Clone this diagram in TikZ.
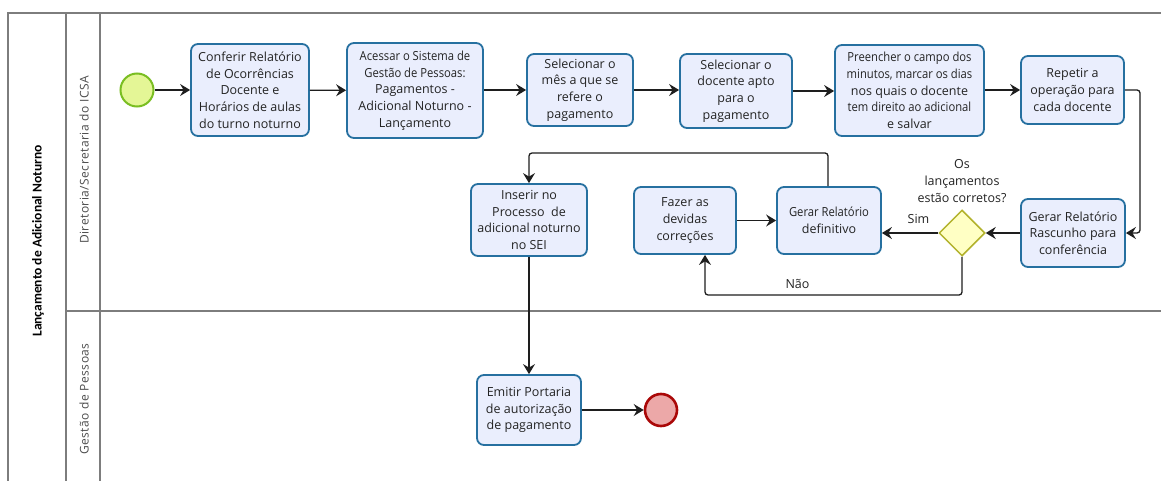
\documentclass[tikz,border=0pt]{standalone}
\usepackage{fontspec}
\setmainfont{Open Sans}
\newfontfamily\condfont[FakeStretch=0.9]{Open Sans}
\newfontfamily\titlefont{Carlito}
\newfontfamily\lanefont[LetterSpace=4]{Open Sans}
\usetikzlibrary{arrows.meta,shapes.geometric}

\definecolor{taskfill}{RGB}{234,238,253}
\definecolor{taskline}{RGB}{38,112,160}
\definecolor{inktext}{RGB}{35,35,35}
\definecolor{startfill}{RGB}{228,246,150}
\definecolor{startline}{RGB}{122,190,34}
\definecolor{endfill}{RGB}{236,168,168}
\definecolor{endline}{RGB}{170,8,8}
\definecolor{gatefill}{RGB}{255,255,196}
\definecolor{gateline}{RGB}{178,178,44}
\definecolor{laneline}{RGB}{125,125,125}
\definecolor{flowline}{RGB}{30,30,30}

\tikzset{
  task/.style={rectangle, rounded corners=7pt, draw=taskline, line width=1.8pt,
    fill=taskfill, text=inktext, align=center, inner sep=0pt,
    font=\fontsize{12.5}{16.7}\selectfont},
  startev/.style={circle, draw=startline, fill=startfill, line width=2pt,
    minimum size=33pt, inner sep=0pt},
  endev/.style={circle, draw=endline, fill=endfill, line width=2.6pt,
    minimum size=32pt, inner sep=0pt},
  gate/.style={diamond, aspect=1, draw=gateline, fill=gatefill, line width=1.5pt,
    minimum width=46pt, minimum height=46pt, inner sep=0pt},
  flow/.style={draw=flowline, line width=1.3pt, rounded corners=3pt,
    -{Stealth[length=10pt,width=12pt,inset=3.5pt]}},
  lane/.style={draw=laneline, line width=1.3pt},
  lbl/.style={text=inktext, align=center, font=\fontsize{12.5}{16.7}\selectfont},
  lanelbl/.style={rotate=90, text=black!70, font=\lanefont\fontsize{12}{14}\selectfont},
}

\begin{document}
\begin{tikzpicture}[x=1pt,y=-1pt]
\useasboundingbox (0,0) rectangle (1161,481);
\fill[white] (0,0) rectangle (1161,481);

% pool and lanes
\draw[lane] (8,481) -- (8,13) -- (1161,13);
\draw[lane] (66,13) -- (66,481);
\draw[lane] (100,13) -- (100,481);
\draw[lane] (66,311) -- (1161,311);

\node[rotate=90, font=\titlefont\bfseries\fontsize{13.5}{16}\selectfont] (pool) at (38,241) {Lançamento de Adicional Noturno};
\node[lanelbl] (laneA) at (84,160) {Diretoria/Secretaria do ICSA};
\node[lanelbl] (laneB) at (84,399) {Gestão de Pessoas};

% events and activities
\node[startev] (start) at (137,90) {};
\node[task, minimum width=118pt, minimum height=92pt] (t1) at (250,90)
  {Conferir Relatório\\de Ocorrências\\Docente e\\Horários de aulas\\do turno noturno};
\node[task, minimum width=136pt, minimum height=95pt] (t2) at (415,90.5)
  {{\condfont Acessar o Sistema de}\\{\condfont Gestão de Pessoas:}\\Pagamentos -\\Adicional Noturno -\\Lançamento};
\node[task, minimum width=106pt, minimum height=72pt] (t3) at (580,90)
  {Selecionar o\\mês a que se\\refere o\\pagamento};
\node[task, minimum width=112pt, minimum height=74pt] (t4) at (736,91)
  {Selecionar o\\docente apto\\para o\\pagamento};
\node[task, minimum width=149pt, minimum height=91pt] (t5) at (909.5,90.5)
  {{\condfont Preencher o campo dos}\\{\condfont minutos, marcar os dias}\\nos quais o docente\\{\condfont tem direito ao adicional}\\e salvar};
\node[task, minimum width=103pt, minimum height=68pt] (t6) at (1072.5,90)
  {Repetir a\\operação para\\cada docente};
\node[task, minimum width=104pt, minimum height=68pt] (t7) at (1073,233)
  {Gerar Relatório\\Rascunho para\\conferência};
\node[gate] (gw) at (962,233) {};
\node[lbl] (gwq) at (962,181) {Os\\lançamentos\\estão corretos?};
\node[task, minimum width=104pt, minimum height=67pt] (t8) at (829,220.5)
  {{\condfont Gerar Relatório}\\definitivo};
\node[task, minimum width=102pt, minimum height=67pt] (t9) at (685,220.5)
  {Fazer as\\devidas\\correções};
\node[task, minimum width=116pt, minimum height=72pt] (t10) at (529,220)
  {Inserir no\\Processo\ \ de\\adicional noturno\\no SEI};
\node[task, minimum width=104pt, minimum height=70pt] (t11) at (529,410)
  {Emitir Portaria\\de autorização\\de pagamento};
\node[endev] (end) at (661,410) {};

% bend points
\coordinate (c6) at (1140,90);
\coordinate (c7) at (1140,233);
\coordinate (cno1) at (962,295);
\coordinate (cno2) at (705,295);
\coordinate (cup1) at (828,153);
\coordinate (cup2) at (529,153);

% sequence flows
\draw[flow] (start) -- (t1);
\draw[flow] (t1) -- (t2);
\draw[flow] (t2.east |- t3.west) -- (t3.west);
\draw[flow] (t3.east) -- (t3.east -| t4.west);
\draw[flow] (t4.east) -- (t5.west |- t4.east);
\draw[flow] (t5.east |- t6.west) -- (t6.west);
\draw[flow] (t6.east) -- (c6) -- (c7) -- (t7.east |- c7);
\draw[flow] (t7.west |- gw.east) -- (gw.east);
\draw[flow] (gw.west) -- (gw.west -| t8.east)
  node[pos=0.35, above=5pt, lbl] (sim) {Sim};
\draw[flow] (t9.east) -- (t8.west);
\draw[flow] (gw.south) -- (cno1) -- (cno2)
  node[pos=0.64, above=2pt, lbl] (nao) {Não} -- (cno2 |- t9.south);
\draw[flow] (cup1 |- t8.north) -- (cup1) -- (cup2) -- (t10.north);
\draw[flow] (t10.south) -- (t11.north);
\draw[flow] (t11.east) -- (end.west);
\end{tikzpicture}
\end{document}
